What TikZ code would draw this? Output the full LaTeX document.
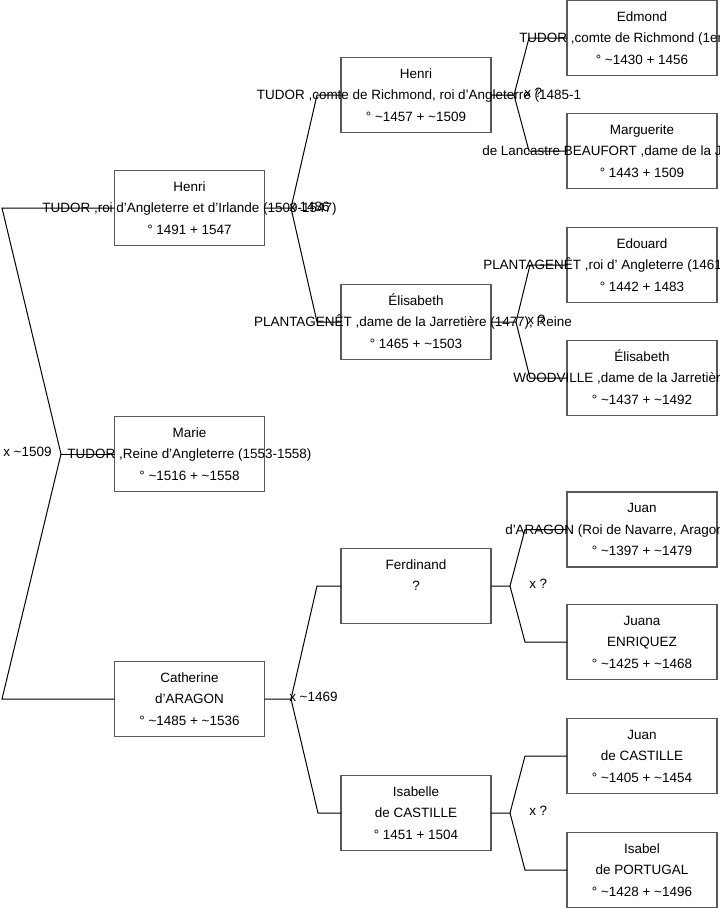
\documentclass[tikz,border=0pt]{standalone}
\usepackage{fontspec}
\setmainfont{Liberation Sans}
\begin{document}
\begin{tikzpicture}[x=0.75pt,y=-0.75pt,
  pbox/.style={draw=black!65, line width=0.9pt, minimum width=112.5pt, minimum height=56.25pt, inner sep=0pt, outer sep=0pt},
  txt/.style={inner sep=0pt, font=\fontsize{10.1pt}{12pt}\selectfont, anchor=base, yshift=-3.6pt},
  txtw/.style={txt, anchor=base west},
  conn/.style={draw=black, line width=0.75pt}]
\useasboundingbox (0,0) rectangle (719,908);
\clip (0,0) rectangle (719,908);
% boxes
\node[pbox] (henri8) at (189.5,208) {};
\node[pbox] (marie) at (189.5,454) {};
\node[pbox] (cath) at (189.5,699) {};
\node[pbox] (henri7) at (416,95) {};
\node[pbox] (elis) at (416,322) {};
\node[pbox] (ferd) at (416,586) {};
\node[pbox] (isab) at (416,813) {};
\node[pbox] (edmond) at (642,38) {};
\node[pbox] (marg) at (642,151) {};
\node[pbox] (edouard) at (642,265) {};
\node[pbox] (elisw) at (642,378) {};
\node[pbox] (juana) at (642,529.5) {};
\node[pbox] (juanaE) at (642,642) {};
\node[pbox] (juanc) at (642,756) {};
\node[pbox] (isabel) at (642,870) {};
% junction coordinates
\coordinate (l1) at (2,208);
\coordinate (lv) at (61,454);
\coordinate (l3) at (2,699);
\coordinate (j1) at (291,208);
\coordinate (j1a) at (317,95);
\coordinate (j1b) at (317,322);
\coordinate (j2) at (291,699);
\coordinate (j2a) at (317,586);
\coordinate (j2b) at (318,813);
\coordinate (j3) at (514,95);
\coordinate (j3a) at (529,38);
\coordinate (j3b) at (529,151);
\coordinate (j4) at (516,322);
\coordinate (j4a) at (530,265);
\coordinate (j4b) at (530,378);
\coordinate (j5) at (510,586);
\coordinate (j5a) at (525,529.5);
\coordinate (j5b) at (525,642);
\coordinate (j6) at (510,813);
\coordinate (j6a) at (525,756);
\coordinate (j6b) at (525,870);
% connectors
\draw[conn] (henri8.west) -- (l1) -- (lv) -- (l3) -- (cath.west);
\draw[conn] (lv) -- (marie.west);
\draw[conn] (henri8.east) -- (j1) -- (j1a) -- (henri7.west);
\draw[conn] (j1) -- (j1b) -- (elis.west);
\draw[conn] (cath.east) -- (j2) -- (j2a) -- (ferd.west);
\draw[conn] (j2) -- (j2b) -- (isab.west);
\draw[conn] (henri7.east) -- (j3) -- (j3a) -- (edmond.west);
\draw[conn] (j3) -- (j3b) -- (marg.west);
\draw[conn] (elis.east) -- (j4) -- (j4a) -- (edouard.west);
\draw[conn] (j4) -- (j4b) -- (elisw.west);
\draw[conn] (ferd.east) -- (j5) -- (j5a) -- (juana.west);
\draw[conn] (j5) -- (j5b) -- (juanaE.west);
\draw[conn] (isab.east) -- (j6) -- (j6a) -- (juanc.west);
\draw[conn] (j6) -- (j6b) -- (isabel.west);
% texts gen 1
\node[txt] (t1a) at (189.5,186.5) {Henri};
\node[txt] (t1b) at (189.5,208) {TUDOR ,roi d'Angleterre et d'Irlande (1509-1547)};
\node[txt] (t1c) at (189.5,229.5) {° 1491 + 1547};
\node[txt] (t2a) at (189.5,432.5) {Marie};
\node[txt] (t2b) at (189.5,454) {TUDOR ,Reine d'Angleterre (1553-1558)};
\node[txt] (t2c) at (189.5,475.5) {° \textasciitilde1516 + \textasciitilde1558};
\node[txt] (t3a) at (189.5,677.5) {Catherine};
\node[txt] (t3b) at (189.5,699) {d'ARAGON};
\node[txt] (t3c) at (189.5,720.5) {° \textasciitilde1485 + \textasciitilde1536};
% gen 2
\node[txt] (t4a) at (416,73.5) {Henri};
\node[txt] (t4b) at (419,95) {TUDOR ,comte de Richmond, roi d'Angleterre (1485-1};
\node[txt] (t4c) at (416,116.5) {° \textasciitilde1457 + \textasciitilde1509};
\node[txt] (t5a) at (416,300.5) {Élisabeth};
\node[txt] (t5b) at (413,322) {PLANTAGENÊT ,dame de la Jarretière (1477), Reine};
\node[txt] (t5c) at (416,343.5) {° 1465 + \textasciitilde1503};
\node[txt] (t6a) at (416,564.5) {Ferdinand};
\node[txt] (t6b) at (416,586) {?};
\node[txt] (t7a) at (416,791.5) {Isabelle};
\node[txt] (t7b) at (416,813) {de CASTILLE};
\node[txt] (t7c) at (416,834.5) {° 1451 + 1504};
% gen 3
\node[txt] (t8a) at (642,16.5) {Edmond};
\node[txtw] (t8b) at (519,38) {TUDOR ,comte de Richmond (1er};
\node[txt] (t8c) at (642,59.5) {° \textasciitilde1430 + 1456};
\node[txt] (t9a) at (642,129.5) {Marguerite};
\node[txtw] (t9b) at (482,151) {de Lancastre BEAUFORT ,dame de la J};
\node[txt] (t9c) at (642,172.5) {° 1443 + 1509};
\node[txt] (t10a) at (642,243.5) {Edouard};
\node[txtw] (t10b) at (483,265) {PLANTAGENÊT ,roi d' Angleterre (1461-};
\node[txt] (t10c) at (642,286.5) {° 1442 + 1483};
\node[txt] (t11a) at (642,356.5) {Élisabeth};
\node[txtw] (t11b) at (513,378) {WOODVILLE ,dame de la Jarretièr};
\node[txt] (t11c) at (642,399.5) {° \textasciitilde1437 + \textasciitilde1492};
\node[txt] (t12a) at (642,508) {Juan};
\node[txtw] (t12b) at (505,529.5) {d'ARAGON (Roi de Navarre, Aragon};
\node[txt] (t12c) at (642,551) {° \textasciitilde1397 + \textasciitilde1479};
\node[txt] (t13a) at (642,620.5) {Juana};
\node[txt] (t13b) at (642,642) {ENRIQUEZ};
\node[txt] (t13c) at (642,663.5) {° \textasciitilde1425 + \textasciitilde1468};
\node[txt] (t14a) at (642,734.5) {Juan};
\node[txt] (t14b) at (642,756) {de CASTILLE};
\node[txt] (t14c) at (642,777.5) {° \textasciitilde1405 + \textasciitilde1454};
\node[txt] (t15a) at (642,848.5) {Isabel};
\node[txt] (t15b) at (642,870) {de PORTUGAL};
\node[txt] (t15c) at (642,891.5) {° \textasciitilde1428 + \textasciitilde1496};
% marriage labels
\node[txtw] (m1) at (3,452) {x \textasciitilde1509};
\node[txtw] (m2) at (289,207) {x 1486};
\node[txtw] (m3) at (289,697) {x \textasciitilde1469};
\node[txtw] (m4) at (524,93) {x ?};
\node[txtw] (m5) at (527,320) {x ?};
\node[txtw] (m6) at (529,584) {x ?};
\node[txtw] (m7) at (529,811) {x ?};
\end{tikzpicture}
\end{document}
